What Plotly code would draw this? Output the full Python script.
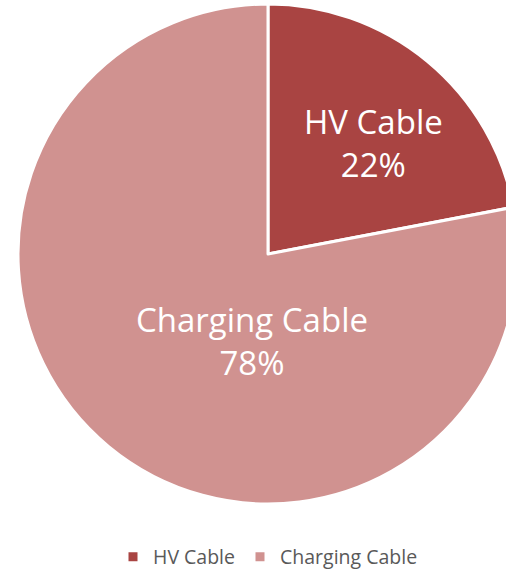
import plotly.graph_objects as go

labels = ["HV Cable", "Charging Cable"]
values = [22, 78]
colors = ["#A94442", "#D09290"]

# label anchor positions (paper coords) - layout only
label_pos = [(0.71, 0.723), (0.468, 0.327)]

total = sum(values)

fig = go.Figure(go.Pie(
    labels=labels,
    values=values,
    sort=False,
    direction="clockwise",
    rotation=0,
    marker=dict(colors=colors, line=dict(color="white", width=3)),
    textinfo="none",
    hoverinfo="label+percent",
))

for lab, val, (x, y) in zip(labels, values, label_pos):
    fig.add_annotation(x=x, y=y, xref="paper", yref="paper",
                       text=f"{lab}<br>{round(100*val/total)}%", showarrow=False,
                       xanchor="center", yanchor="middle", align="center",
                       font=dict(size=33, color="white", family="Open Sans"))

fig.update_layout(
    width=536, height=570,
    margin=dict(l=18, r=18, t=4, b=66),
    paper_bgcolor="white",
    plot_bgcolor="white",
    font=dict(family="Open Sans", color="#595959"),
    legend=dict(orientation="h", x=0.5, xanchor="center", xref="container",
                y=0.0228, yanchor="middle", yref="container",
                font=dict(size=19.5, color="#595959", family="Open Sans")),
)

fig.write_html("out.html", config={"displayModeBar": False},
               post_script="document.body.style.margin='0';document.body.style.overflow='hidden';")
